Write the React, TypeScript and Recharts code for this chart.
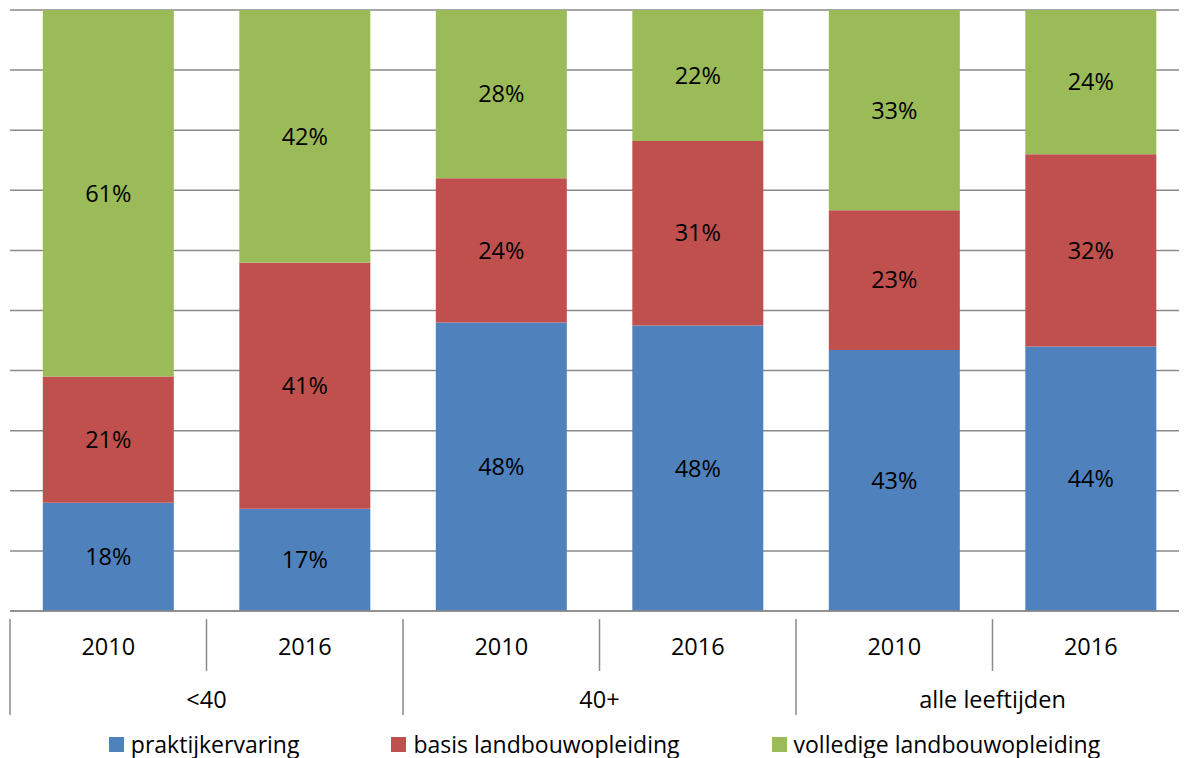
import { BarChart, Bar, XAxis, YAxis, CartesianGrid, LabelList } from "recharts"

const years = ["2010", "2016", "2010", "2016", "2010", "2016"]
const groups = ["<40", "<40", "40+", "40+", "alle leeftijden", "alle leeftijden"]
const praktijk = [18, 17, 48, 48, 43, 44]
const basis = [21, 41, 24, 31, 23, 32]
const volledig = [61, 42, 28, 22, 33, 24]
const yTicks = [0, 0.1, 0.2, 0.3, 0.4, 0.5, 0.6, 0.7, 0.8, 0.9, 1]

const series = [
  { key: "praktijk", name: "praktijkervaring", color: "#4F81BD" },
  { key: "basis", name: "basis landbouwopleiding", color: "#C0504D" },
  { key: "volledig", name: "volledige landbouwopleiding", color: "#9BBB59" },
]

const data = years.map((year, i) => ({
  year,
  group: groups[i],
  praktijk: praktijk[i],
  basis: basis[i],
  volledig: volledig[i],
}))

const FONT = "'Open Sans', sans-serif"
const GRID = "#8a8a8a"
const CHART_W = 1189
const MARGIN_LEFT = 10
const HALF = (CHART_W - MARGIN_LEFT) / years.length / 2
const FS = 23.5

// two-level axis: year label, group label under each pair, separators
function YearTick(props: any) {
  const { x, y, payload, index } = props
  const startsGroup = index % 2 === 0
  return (
    <g>
      <line
        x1={x - HALF}
        x2={x - HALF}
        y1={y}
        y2={startsGroup ? y + 104 : y + 52}
        stroke={GRID}
        strokeWidth={1.5}
      />
      {index === years.length - 1 && (
        <line x1={x + HALF} x2={x + HALF} y1={y} y2={y + 104} stroke={GRID} strokeWidth={1.5} />
      )}
      <text x={x} y={y + 36} textAnchor="middle" fontSize={FS} fill="#000" fontFamily={FONT}>
        {payload.value}
      </text>
      {!startsGroup && (
        <text x={x - HALF} y={y + 89} textAnchor="middle" fontSize={FS} fill="#000" fontFamily={FONT}>
          {groups[index]}
        </text>
      )}
    </g>
  )
}

export default function App() {
  return (
    <div style={{ margin: "-8px 0 0 -8px", width: CHART_W, fontFamily: FONT }}>
      <BarChart
        width={CHART_W}
        height={715}
        data={data}
        stackOffset="expand"
        barCategoryGap="16.7%"
        margin={{ top: 10, right: 0, left: MARGIN_LEFT, bottom: 0 }}
      >
        <CartesianGrid vertical={false} stroke={GRID} strokeWidth={1.5} />
        <YAxis hide domain={[0, 1]} ticks={yTicks} />
        <XAxis
          dataKey="year"
          height={104}
          interval={0}
          tickLine={false}
          axisLine={{ stroke: GRID, strokeWidth: 1.5 }}
          tick={<YearTick />}
        />
        {series.map((s) => (
          <Bar key={s.key} dataKey={s.key} name={s.name} stackId="a" fill={s.color} isAnimationActive={false}>
            <LabelList
              dataKey={s.key}
              position="center"
              formatter={(v: any) => `${v}%`}
              fill="#000"
              fontSize={FS}
              fontFamily={FONT}
            />
          </Bar>
        ))}
      </BarChart>
      <div
        style={{
          display: "flex",
          justifyContent: "center",
          gap: 92,
          marginTop: 13,
          paddingLeft: 20,
          fontSize: 23,
          color: "#000",
        }}
      >
        {series.map((s) => (
          <div key={s.key} style={{ display: "flex", alignItems: "center", gap: 7 }}>
            <span style={{ width: 15, height: 15, background: s.color, display: "inline-block" }} />
            <span>{s.name}</span>
          </div>
        ))}
      </div>
    </div>
  )
}
